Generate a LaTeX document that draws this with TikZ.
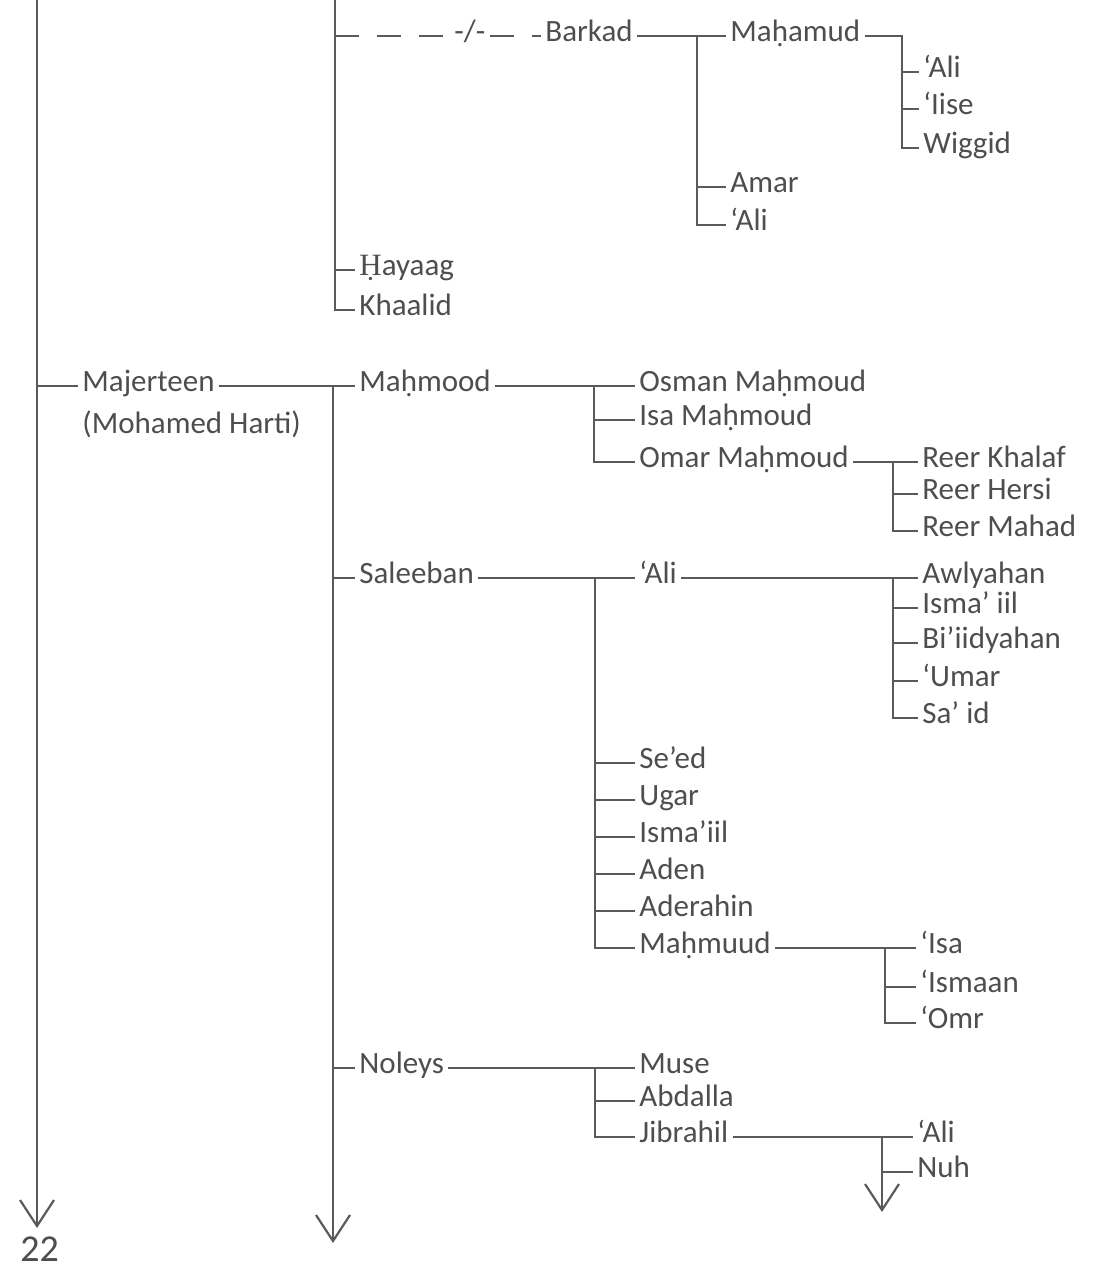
\documentclass[tikz,border=0pt]{standalone}
\usepackage{fontspec}
\setmainfont{Carlito}
\newfontfamily\capfont{Liberation Serif}
\usetikzlibrary{arrows.meta}
\definecolor{ink}{HTML}{4E4E4E}
\definecolor{rule}{HTML}{5A5A5A}

\begin{document}
\begin{tikzpicture}[x=0.5pt,y=-0.5pt,
	kin/.style={anchor=west,inner sep=2pt,text=ink,text height=1.45ex,text depth=0.3ex,
		font=\fontsize{15.5}{18}\selectfont},
	bar/.style={draw=rule,line width=1.1pt},
	lost/.style={bar,dash pattern=on 12pt off 9pt},
	tail/.style={bar,-{Straight Barb[length=13pt,width=17pt]}}]
	
	\useasboundingbox (0,0) rectangle (1110,1278);
	
	\coordinate (topA) at (37,0);
	\coordinate (endA) at (37,1228);
	\coordinate (topB) at (335,0);
	
	\node[kin] (brk) at (450,36) {-/-};
	\node[kin] (barkad) at (541,36) {Barkad};
	\node[kin] (mahamud) at (726,36) {Maḥamud};
	\node[kin] (ali1) at (919,72) {‘Ali};
	\node[kin] (iise) at (919,109) {‘Iise};
	\node[kin] (wiggid) at (919,148) {Wiggid};
	\node[kin] (amar) at (726,187) {Amar};
	\node[kin] (ali2) at (726,225) {‘Ali};
	\node[kin] (hayaag) at (355,270) {{\capfont Ḥ}ayaag};
	\node[kin] (khaalid) at (355,310) {Khaalid};
	
	\draw[bar] (topB) |- (khaalid.west);
	\draw[bar] (topB |- hayaag.west) -- (hayaag.west);
	\draw[lost] (topB |- brk.west) -- (brk.west);
	\draw[lost] (brk.east) -- (barkad.west);
	\draw[bar] (barkad.east) -- (mahamud.west);
	\coordinate (jB) at (697,36);
	\draw[bar] (jB) |- (ali2.west);
	\draw[bar] (jB |- amar.west) -- (amar.west);
	\coordinate (jM) at (902,36);
	\draw[bar] (mahamud.east) -- (jM) |- (wiggid.west);
	\foreach \k in {ali1,iise}
		\draw[bar] (jM |- \k.west) -- (\k.west);
	
	\node[kin] (majerteen) at (78,386) {Majerteen};
	\node[kin] (harti) at (78,428) {(Mohamed Harti)};
	\node[kin] (mahmood) at (355,386) {Maḥmood};
	\node[kin] (osman) at (635,386) {Osman Maḥmoud};
	\node[kin] (isa1) at (635,420) {Isa Maḥmoud};
	\node[kin] (omar) at (635,462) {Omar Maḥmoud};
	\node[kin] (khalaf) at (918,462) {Reer Khalaf};
	\node[kin] (hersi) at (918,494) {Reer Hersi};
	\node[kin] (mahad) at (918,531) {Reer Mahad};
	
	\draw[bar] (topA |- majerteen.west) -- (majerteen.west);
	\draw[bar] (majerteen.east) -- (mahmood.west);
	\coordinate (jS) at (333,386);
	\coordinate (endS) at (333,1243);
	\draw[tail] (topA) -- (endA);
	\draw[tail] (jS) -- (endS);
	\draw[bar] (mahmood.east) -- (osman.west);
	\coordinate (jH) at (594,386);
	\draw[bar] (jH) |- (omar.west);
	\draw[bar] (jH |- isa1.west) -- (isa1.west);
	\draw[bar] (omar.east) -- (khalaf.west);
	\coordinate (jO) at (893,462);
	\draw[bar] (jO) |- (mahad.west);
	\draw[bar] (jO |- hersi.west) -- (hersi.west);
	
	\node[kin] (saleeban) at (355,578) {Saleeban};
	\node[kin] (ali3) at (635,578) {‘Ali};
	\node[kin] (awlyahan) at (918,578) {Awlyahan};
	\node[kin] (isma1) at (918,608) {Isma’ iil};
	\node[kin] (biiid) at (918,643) {Bi’iidyahan};
	\node[kin] (umar) at (918,681) {‘Umar};
	\node[kin] (said) at (918,718) {Sa’ id};
	\node[kin] (seed) at (635,763) {Se’ed};
	\node[kin] (ugar) at (635,800) {Ugar};
	\node[kin] (isma2) at (635,837) {Isma’iil};
	\node[kin] (aden) at (635,874) {Aden};
	\node[kin] (aderahin) at (635,911) {Aderahin};
	\node[kin] (mahmuud) at (635,948) {Maḥmuud};
	\node[kin] (isa2) at (916,948) {‘Isa};
	\node[kin] (ismaan) at (916,987) {‘Ismaan};
	\node[kin] (omr) at (916,1023) {‘Omr};
	
	\draw[bar] (jS |- saleeban.west) -- (saleeban.west);
	\draw[bar] (saleeban.east) -- (ali3.west);
	\coordinate (jL) at (595,578);
	\draw[bar] (jL) |- (mahmuud.west);
	\foreach \k in {seed,ugar,isma2,aden,aderahin}
		\draw[bar] (jL |- \k.west) -- (\k.west);
	\draw[bar] (ali3.east) -- (awlyahan.west);
	\coordinate (jA) at (893,578);
	\draw[bar] (jA) |- (said.west);
	\foreach \k in {isma1,biiid,umar}
		\draw[bar] (jA |- \k.west) -- (\k.west);
	\draw[bar] (mahmuud.east) -- (isa2.west);
	\coordinate (jU) at (885,948);
	\draw[bar] (jU) |- (omr.west);
	\draw[bar] (jU |- ismaan.west) -- (ismaan.west);
	
	\node[kin] (noleys) at (355,1068) {Noleys};
	\node[kin] (muse) at (635,1068) {Muse};
	\node[kin] (abdalla) at (635,1101) {Abdalla};
	\node[kin] (jibrahil) at (635,1137) {Jibrahil};
	\node[kin] (ali4) at (913,1137) {‘Ali};
	\node[kin] (nuh) at (913,1172) {Nuh};
	\coordinate (endJ) at (882,1212);
	
	\draw[bar] (jS |- noleys.west) -- (noleys.west);
	\draw[bar] (noleys.east) -- (muse.west);
	\coordinate (jN) at (595,1068);
	\draw[bar] (jN) |- (jibrahil.west);
	\draw[bar] (jN |- abdalla.west) -- (abdalla.west);
	\draw[bar] (jibrahil.east) -- (ali4.west);
	\coordinate (jJ) at (882,1137);
	\draw[tail] (jJ) -- (endJ);
	\draw[bar] (jJ |- nuh.west) -- (nuh.west);
	
	\node[kin,font=\fontsize{19}{22}\selectfont] (page) at (16,1256) {22};
	
\end{tikzpicture}
\end{document}
